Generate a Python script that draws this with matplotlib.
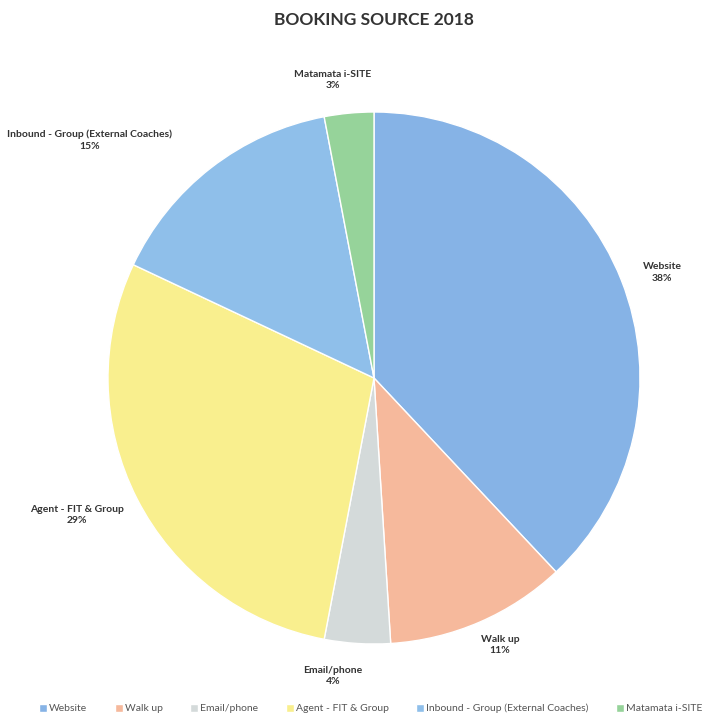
import matplotlib.pyplot as plt

plt.rcParams['font.family'] = ['Lato', 'DejaVu Sans']

# booking source shares (%)
sources = ["Website", "Walk up", "Email/phone", "Agent - FIT & Group",
           "Inbound - Group (External Coaches)", "Matamata i-SITE"]
shares = [38, 11, 4, 29, 15, 3]
colors = ["#86b3e6", "#f6b99c", "#d4dada", "#f9ef8e", "#8fbfea", "#96d39a"]
label_names = ["Website", "Walk up", "Email/phone", "Agent - FIT & Group",
               "Inbound - Group (External Coaches)", "Matamata i-SITE"]

fig = plt.figure(figsize=(7.2, 7.17), dpi=100)
ax = fig.add_axes([0, 0, 1, 1])

wedges, _ = ax.pie(shares, colors=colors, startangle=90, counterclock=False,
                   wedgeprops=dict(edgecolor="white", linewidth=1))

# place labels roughly where the original report put them
label_pos = [(1.083, 0.398), (0.474, -1.004), (-0.154, -1.12),
             (-1.117, -0.515), (-1.068, 0.895), (-0.154, 1.12)]
for name, val, (x, y) in zip(label_names, shares, label_pos):
    ax.text(x, y, f"{name}\n{val}%", ha="center", va="center",
            fontsize=7.5, fontweight="bold", color="#333333", linespacing=1.4)

px = 266.0
ax.set_xlim(-374 / px, (720 - 374) / px)
ax.set_ylim(-339 / px, 378 / px)
ax.set_aspect("auto")
ax.axis("off")

fig.text(0.52, 0.972, "BOOKING SOURCE 2018", ha="center", va="center",
         fontsize=12.5, fontweight="bold", color="#333333")

fig.legend(wedges, sources, loc="lower center", bbox_to_anchor=(0.515, -0.008),
           ncol=6, frameon=False, fontsize=7.5, handlelength=0.8, handleheight=0.8,
           handletextpad=0.2, columnspacing=2.6, labelcolor="#555555")

fig.savefig("out.png", dpi=100, facecolor="white")
